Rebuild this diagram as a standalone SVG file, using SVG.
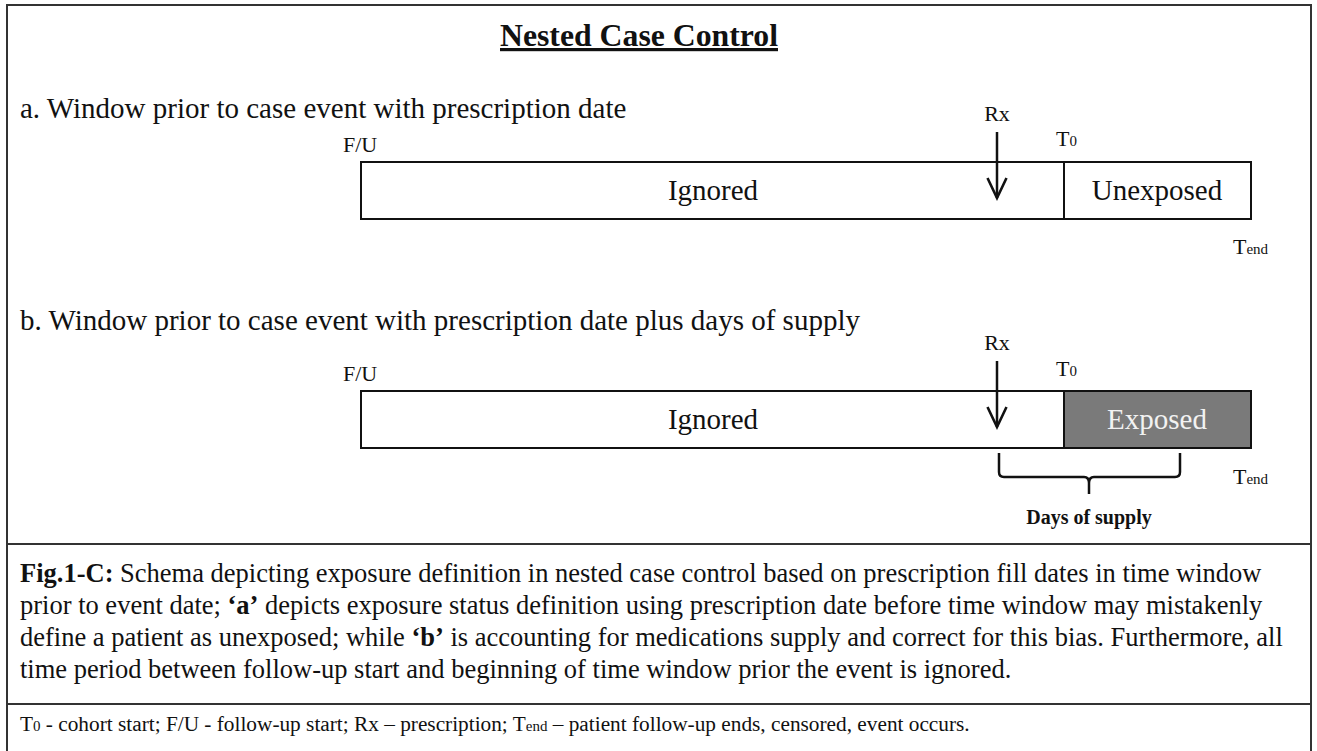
<svg xmlns="http://www.w3.org/2000/svg" width="1317" height="751" viewBox="0 0 1317 751">
<style>
text{font-family:"Liberation Serif","Times New Roman",serif;fill:#111}
.h{font-size:29px}
.lbl{font-size:22px}
.sub{font-size:15px}
.cap{font-size:26.5px}
.ft{font-size:21.3px}
.fsub{font-size:15px}
.box{fill:#fff;stroke:#111;stroke-width:2}
.ln{stroke:#111;stroke-width:2.5;fill:none}
.frame{stroke:#333;stroke-width:2;fill:none}
</style>
<defs>
<marker id="ah" viewBox="0 0 24 24" refX="21" refY="12" markerWidth="24" markerHeight="24" markerUnits="userSpaceOnUse" orient="auto">
<path d="M1,2.5 L21,12 L1,21.5" fill="none" stroke="#111" stroke-width="2.6" stroke-linejoin="miter"/>
</marker>
</defs>
<rect width="1317" height="751" fill="#fff"/>
<g id="frame">
<path class="frame" d="M7,760 V5 H1311 V760"/>
<line class="frame" x1="7" y1="544" x2="1311" y2="544"/>
<line class="frame" x1="7" y1="704" x2="1311" y2="704"/>
</g>
<g id="title">
<text x="639" y="46" text-anchor="middle" font-size="32" font-weight="bold" textLength="278" lengthAdjust="spacingAndGlyphs" style="text-decoration:underline">Nested Case Control</text>
</g>
<g id="panel-a">
<text class="h" x="20" y="118">a. Window prior to case event with prescription date</text>
<text class="lbl" x="343" y="152">F/U</text>
<g id="a-ignored"><rect class="box" x="361" y="162" width="703" height="57"/><text class="h" x="713" y="200" text-anchor="middle">Ignored</text></g>
<g id="a-unexposed"><rect class="box" x="1064" y="162" width="187" height="57"/><text class="h" x="1157" y="200" text-anchor="middle">Unexposed</text></g>
<text class="lbl" x="997" y="121" text-anchor="middle">Rx</text>
<text class="lbl" x="1056" y="146">T<tspan class="sub">0</tspan></text>
<text class="lbl" x="1233" y="254">T<tspan class="sub">end</tspan></text>
</g>
<g id="panel-b">
<text class="h" x="20" y="330">b. Window prior to case event with prescription date plus days of supply</text>
<text class="lbl" x="343" y="381">F/U</text>
<g id="b-ignored"><rect class="box" x="361" y="391" width="703" height="57"/><text class="h" x="713" y="429" text-anchor="middle">Ignored</text></g>
<g id="b-exposed"><rect x="1064" y="391" width="187" height="57" fill="#7a7a7a" stroke="#111" stroke-width="2"/><text class="h" x="1157" y="429" text-anchor="middle" style="fill:#f2f2f2">Exposed</text></g>
<text class="lbl" x="997" y="350" text-anchor="middle">Rx</text>
<text class="lbl" x="1056" y="376">T<tspan class="sub">0</tspan></text>
<text class="lbl" x="1233" y="484">T<tspan class="sub">end</tspan></text>
<text x="1089" y="524" text-anchor="middle" font-size="20" font-weight="bold">Days of supply</text>
</g>
<g id="connectors">
<line class="ln" x1="997" y1="132" x2="997" y2="198" marker-end="url(#ah)"/>
<line class="ln" x1="997" y1="361" x2="997" y2="427" marker-end="url(#ah)"/>
<path class="ln" stroke-width="2.8" d="M999,453 V472 Q999,477 1004,477 H1084 Q1089,477 1089,483 V494 M1089,483 Q1089,477 1094,477 H1175 Q1180,477 1180,472 V453"/>
</g>
<g id="caption">
<text class="cap" x="20" y="582"><tspan font-weight="bold">Fig.1-C:</tspan> Schema depicting exposure definition in nested case control based on prescription fill dates in time window</text>
<text class="cap" x="20" y="614">prior to event date; <tspan font-weight="bold">‘a’</tspan> depicts exposure status definition using prescription date before time window may mistakenly</text>
<text class="cap" x="20" y="646">define a patient as unexposed; while <tspan font-weight="bold">‘b’</tspan> is accounting for medications supply and correct for this bias. Furthermore, all</text>
<text class="cap" x="20" y="678">time period between follow-up start and beginning of time window prior the event is ignored.</text>
</g>
<g id="footer">
<text class="ft" x="20" y="731">T<tspan class="fsub">0</tspan> - cohort start; F/U - follow-up start; Rx – prescription; T<tspan class="fsub">end</tspan> – patient follow-up ends, censored, event occurs.</text>
</g>
</svg>
